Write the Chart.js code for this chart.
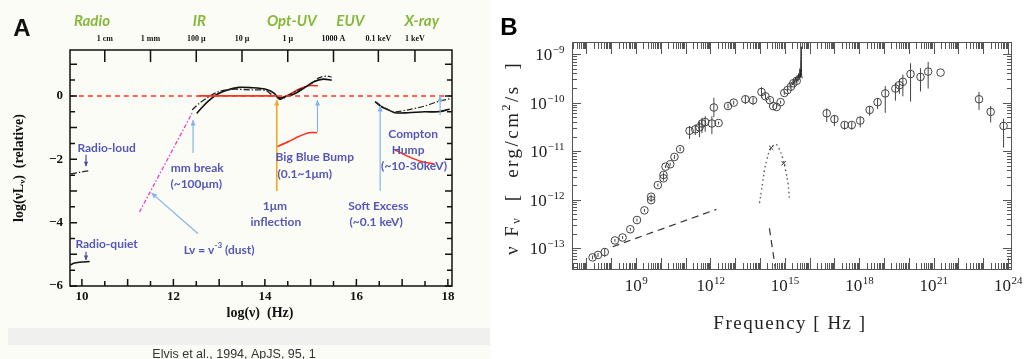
<!DOCTYPE html>
<html>
<head>
<meta charset="utf-8">
<script src="https://cdn.jsdelivr.net/npm/chart.js@4.4.1/dist/chart.umd.min.js"></script>
<style>
  body { margin: 0; background: #fff; width: 1033px; height: 359px; overflow: hidden; position: relative; }
  #boxA { position: absolute; left: 0; top: 0; width: 500px; height: 359px; }
  #boxB { position: absolute; left: 500px; top: 0; width: 533px; height: 359px; }
</style>
</head>
<body>
<div id="boxA"><canvas id="chartA" width="500" height="359"></canvas></div>
<div id="boxB"><canvas id="chartB" width="533" height="359"></canvas></div>
<script>
// ---------- panel A : log(nu) [Hz] vs log(nu L_nu) relative ----------
const bandNames = ["Radio", "IR", "Opt-UV", "EUV", "X-ray"];
const bandPos = [10.22, 12.57, 14.59, 15.87, 17.43];
const waveLabels = ["1 cm", "1 mm", "100 \u03bc", "10 \u03bc", "1 \u03bc", "1000 A", "0.1 keV", "1 keV"];
const wavePos = [10.5, 11.5, 12.5, 13.5, 14.5, 15.5, 16.48, 17.28];
const xTicksA = [10, 12, 14, 16, 18];
const yTicksA = [0, -2, -4, -6];

const irSolidX = [12.51, 12.64, 12.75, 12.93, 13.15, 13.43, 13.72, 14.02, 14.20, 14.29, 14.34, 14.45, 14.59, 14.74, 14.96, 15.07, 15.28, 15.46];
const irSolidY = [-0.55, -0.34, -0.18, 0.03, 0.17, 0.27, 0.26, 0.21, 0.09, -0.07, -0.10, -0.02, 0.03, 0.14, 0.35, 0.45, 0.53, 0.50];
const irDashX = [12.41, 12.57, 12.78, 13.0, 13.29, 13.72, 14.02, 14.16, 14.30, 14.41, 14.52, 14.74, 15.03, 15.17, 15.35, 15.46];
const irDashY = [-0.44, -0.23, -0.02, 0.14, 0.21, 0.19, 0.17, 0.03, -0.04, -0.07, 0.03, 0.19, 0.40, 0.56, 0.63, 0.59];
const bbbUpX = [14.30, 14.43, 14.59, 14.74, 14.96, 15.16];
const bbbUpY = [-0.07, -0.02, 0.09, 0.21, 0.32, 0.32];
const bbbLowX = [14.27, 14.52, 14.74, 14.96, 15.14];
const bbbLowY = [-1.60, -1.44, -1.28, -1.16, -1.16];
const xraySolidX = [16.41, 16.55, 16.70, 16.84, 17.13, 17.49, 17.78, 18.04];
const xraySolidY = [-0.18, -0.34, -0.44, -0.53, -0.53, -0.50, -0.50, -0.42];
const xrayDashX = [16.41, 16.55, 16.70, 16.84, 17.13, 17.49, 17.78, 18.04];
const xrayDashY = [-0.18, -0.32, -0.44, -0.50, -0.44, -0.32, -0.18, -0.09];
const comptonX = [16.84, 17.13, 17.42, 17.71];
const comptonY = [-1.70, -1.91, -2.07, -2.15];
const dustX = [11.26, 12.41];
const dustY = [-3.66, -0.54];
const radioLoudX = [9.76, 9.95, 10.17];
const radioLoudY = [-2.46, -2.41, -2.36];
const radioQuietX = [9.75, 9.82, 9.95, 10.17];
const radioQuietY = [-5.34, -5.28, -5.25, -5.23];
const zeroX = [9.74, 18.09];
const zeroY = [0, 0];
const zeroSolidX = [12.55, 14.25];
const zeroSolidY = [0, 0];

// arrows: [x0, y0, x1, y1] in data units, head at (x1, y1)
const blueArrows = [
  [12.43, -1.80, 12.43, -0.76],
  [12.54, -4.35, 11.52, -3.06],
  [15.15, -1.14, 15.15, -0.13],
  [16.52, -3.00, 16.52, -0.32],
  [17.83, -0.60, 17.83, 0.0]
];
const orangeArrows = [[14.26, -3.00, 14.26, -0.13]];
const darkArrows = [
  [10.09, -1.86, 10.09, -2.22],
  [10.09, -4.92, 10.09, -5.18]
];
const noteText = ["Radio-loud", "mm break", "(~100\u03bcm)", "Big Blue Bump", "(0.1~1\u03bcm)", "1\u03bcm", "inflection",
  "Soft Excess", "(~0.1 keV)", "Compton", "Hump", "(~10-30keV)", "Radio-quiet"];
const noteX = [10.54, 12.52, 12.50, 15.09, 14.87, 14.22, 14.24, 16.48, 16.43, 17.24, 17.13, 17.26, 10.54];
const noteY = [-1.64, -2.27, -2.78, -1.92, -2.46, -3.47, -3.97, -3.47, -3.97, -1.20, -1.70, -2.21, -4.67];

// ---------- panel B : log frequency [Hz] vs log nuFnu [erg/cm2/s] ----------
const ptX = [7.25, 7.47, 7.74, 8.15, 8.46, 8.77, 9.04, 9.34, 9.61, 9.61, 9.88, 10.11, 10.11, 10.19, 10.38, 10.55, 10.78,
  11.16, 11.39, 11.56, 11.66, 11.79, 12.06, 12.14, 12.33, 12.71, 12.94, 13.41, 13.72, 14.06, 14.22, 14.40, 14.53,
  14.67, 14.83, 14.98, 15.11, 15.25, 15.34, 15.48, 16.69, 17.0, 17.41, 17.70, 18.04, 18.42, 18.74, 19.05, 19.46,
  19.62, 19.76, 20.07, 20.47, 20.78, 21.28, 22.83, 23.30, 23.82];
const ptY = [-13.19, -13.14, -13.08, -12.84, -12.78, -12.61, -12.42, -12.22, -12.01, -11.94, -11.70, -11.56, -11.49,
  -11.32, -11.27, -11.12, -10.96, -10.58, -10.55, -10.51, -10.43, -10.40, -10.43, -10.10, -10.42, -10.07, -10.0,
  -9.93, -9.95, -9.78, -9.87, -9.95, -10.07, -10.09, -9.99, -9.80, -9.74, -9.67, -9.60, -9.55, -10.22, -10.34,
  -10.46, -10.46, -10.37, -10.15, -9.99, -9.81, -9.71, -9.64, -9.57, -9.41, -9.47, -9.36, -9.38, -9.93, -10.19, -10.48];
const errLo = [0.04, 0.04, 0.10, 0.03, 0.03, 0.03, 0.03, 0.03, 0.04, 0.04, 0.03, 0.05, 0.05, 0.03, 0.03, 0.04, 0.04,
  0.17, 0.12, 0.20, 0.20, 0.20, 0.22, 0.20, 0.03, 0.05, 0.04, 0.10, 0.10, 0.12, 0.06, 0.04, 0.03,
  0.03, 0.03, 0.04, 0.04, 0.04, 0.04, 0.04, 0.18, 0.14, 0.10, 0.10, 0.14, 0.12, 0.14, 0.40, 0.25,
  0.18, 0.30, 0.57, 0.30, 0.35, 0, 0.22, 0.22, 0.45];
const errHi = [0.04, 0.04, 0.08, 0.03, 0.03, 0.03, 0.03, 0.03, 0.04, 0.04, 0.03, 0.05, 0.05, 0.03, 0.03, 0.04, 0.04,
  0.10, 0.10, 0.12, 0.12, 0.12, 0.15, 0.20, 0.03, 0.05, 0.04, 0.08, 0.06, 0.10, 0.06, 0.04, 0.03,
  0.03, 0.03, 0.04, 0.04, 0.04, 0.04, 0.04, 0.10, 0.08, 0.06, 0.06, 0.08, 0.08, 0.08, 0.15, 0.12,
  0.12, 0.15, 0.22, 0.18, 0.20, 0, 0.15, 0.12, 0.15];
const spikeX = [15.22, 15.28, 15.32, 15.36, 15.40, 15.44, 15.47, 15.50, 15.53, 15.56, 15.59, 15.61, 15.63, 15.65, 15.66, 15.67, 15.68, 15.70];
const spikeY = [-9.66, -9.58, -9.63, -9.52, -9.60, -9.47, -9.58, -9.44, -9.56, -9.40, -9.52, -9.30, -9.48, -9.05, -8.85, -9.30, -9.45, -9.50];
const dotX = [13.98, 14.05, 14.11, 14.18, 14.28, 14.41, 14.63, 14.76, 14.90, 15.03, 15.13, 15.19];
const dotY = [-12.07, -11.84, -11.63, -11.39, -11.17, -10.97, -10.86, -10.94, -11.12, -11.39, -11.67, -12.01];
const crossX = [14.45, 14.95];
const crossY = [-10.93, -11.25];
const dashX = [8.06, 12.24];
const dashY = [-12.97, -12.20];
const steepX = [14.38, 14.62];
const steepY = [-12.59, -13.42];
const xTicksB = [9, 12, 15, 18, 21, 24];
const yTicksB = [-9, -10, -11, -12, -13];

const pts = (xs, ys) => xs.map((x, i) => ({ x, y: ys[i] }));

function line(xs, ys, color, width, dash) {
  return { data: pts(xs, ys), borderColor: color, borderWidth: width, borderDash: dash || [],
    pointRadius: 0, showLine: true, fill: false, tension: 0.3 };
}

function arrow(ctx, x0, y0, x1, y1, head) {
  ctx.beginPath(); ctx.moveTo(x0, y0); ctx.lineTo(x1, y1); ctx.stroke();
  const a = Math.atan2(y1 - y0, x1 - x0);
  ctx.beginPath();
  ctx.moveTo(x1, y1);
  ctx.lineTo(x1 - head * Math.cos(a - 0.45), y1 - head * Math.sin(a - 0.45));
  ctx.lineTo(x1 - head * Math.cos(a + 0.45), y1 - head * Math.sin(a + 0.45));
  ctx.closePath(); ctx.fill();
}

// draws text pieces [text, font, dy] centred on (0,0) of the current transform
function richText(ctx, parts, spacing) {
  ctx.textAlign = "left"; ctx.textBaseline = "middle";
  ctx.letterSpacing = spacing || "0px";
  const widths = parts.map(p => { ctx.font = p[1]; return ctx.measureText(p[0]).width; });
  let cx = -widths.reduce((s, w) => s + w, 0) / 2;
  parts.forEach((p, i) => { ctx.font = p[1]; ctx.fillText(p[0], cx, p[2]); cx += widths[i]; });
  ctx.letterSpacing = "0px";
}

const panelA = {
  id: "panelA",
  beforeDraw(chart) {
    const ctx = chart.ctx;
    ctx.save();
    ctx.fillStyle = "#fff";
    ctx.fillRect(0, 0, chart.width, chart.height);
    ctx.fillStyle = "#fcfcf7";
    ctx.fillRect(0, 0, 491, chart.height);
    ctx.fillStyle = "#f0f0ee";
    ctx.fillRect(8, 328, 482, 17);
    ctx.fillStyle = "#333";
    ctx.font = "12.5px 'Liberation Sans'";
    ctx.textAlign = "center"; ctx.textBaseline = "top";
    ctx.fillText("Elvis et al., 1994, ApJS, 95, 1", 234, 348);
    ctx.restore();
  },
  afterDraw(chart) {
    const { ctx, chartArea: a, scales: { x, y } } = chart;
    ctx.save();
    ctx.strokeStyle = "#111"; ctx.lineWidth = 1.5;
    ctx.strokeRect(a.left, a.top, a.right - a.left, a.bottom - a.top);
    ctx.beginPath();
    for (let v = 10; v <= 18; v += 0.5) {
      const px = x.getPixelForValue(v);
      const len = Number.isInteger(v) ? 7 : 5;
      ctx.moveTo(px, a.bottom); ctx.lineTo(px, a.bottom - len);
    }
    for (let v = -6; v <= 1; v += 0.5) {
      const py = y.getPixelForValue(v);
      const len = Number.isInteger(v) ? 7 : 5;
      ctx.moveTo(a.left, py); ctx.lineTo(a.left + len, py);
      ctx.moveTo(a.right, py); ctx.lineTo(a.right - len, py);
    }
    wavePos.forEach(v => {
      const px = x.getPixelForValue(v);
      ctx.moveTo(px, a.top); ctx.lineTo(px, a.top + 12);
    });
    ctx.stroke();

    ctx.fillStyle = "#111";
    ctx.font = "bold 13px 'Liberation Serif'";
    ctx.textAlign = "center"; ctx.textBaseline = "middle";
    xTicksA.forEach(v => ctx.fillText(String(v), x.getPixelForValue(v), a.bottom + 11));
    ctx.textAlign = "right";
    yTicksA.forEach(v => ctx.fillText(v === 0 ? "0" : "\u2212" + Math.abs(v), a.left - 7, y.getPixelForValue(v)));
    ctx.font = "bold 8px 'Liberation Serif'";
    ctx.textAlign = "center";
    waveLabels.forEach((t, i) => ctx.fillText(t, x.getPixelForValue(wavePos[i]), 39));
    ctx.font = "bold italic 15px Lato";
    ctx.fillStyle = "#86b83a";
    bandNames.forEach((t, i) => ctx.fillText(t, x.getPixelForValue(bandPos[i]), 21));

    ctx.fillStyle = "#111";
    ctx.font = "bold 14px 'Liberation Serif'";
    ctx.fillText("log(\u03bd)  (Hz)", 260, 313);
    ctx.save();
    ctx.translate(19, 168); ctx.rotate(-Math.PI / 2);
    const fA = "bold 14px 'Liberation Serif'", fAs = "bold 9px 'Liberation Serif'";
    richText(ctx, [["log(\u03bdL", fA, 0], ["\u03bd", fAs, 4], [")  (relative)", fA, 0]]);
    ctx.restore();
    ctx.textAlign = "center";
    ctx.font = "bold 24px 'Liberation Sans'";
    ctx.fillText("A", 22, 29);

    // annotation arrows
    ctx.lineWidth = 1.2;
    ctx.strokeStyle = ctx.fillStyle = "#86b4ea";
    blueArrows.forEach(r => arrow(ctx, x.getPixelForValue(r[0]), y.getPixelForValue(r[1]), x.getPixelForValue(r[2]), y.getPixelForValue(r[3]), 6));
    ctx.lineWidth = 1.6;
    ctx.strokeStyle = ctx.fillStyle = "#f5a524";
    orangeArrows.forEach(r => arrow(ctx, x.getPixelForValue(r[0]), y.getPixelForValue(r[1]), x.getPixelForValue(r[2]), y.getPixelForValue(r[3]), 6));
    ctx.lineWidth = 1.2;
    ctx.strokeStyle = ctx.fillStyle = "#4a4aa8";
    darkArrows.forEach(r => arrow(ctx, x.getPixelForValue(r[0]), y.getPixelForValue(r[1]), x.getPixelForValue(r[2]), y.getPixelForValue(r[3]), 5));

    ctx.fillStyle = "#5557b8";
    ctx.font = "bold 12px Lato";
    ctx.textAlign = "center"; ctx.textBaseline = "middle";
    noteText.forEach((t, i) => ctx.fillText(t, x.getPixelForValue(noteX[i]), y.getPixelForValue(noteY[i])));
    // L nu = nu^-3 label with superscript
    ctx.save();
    ctx.translate(x.getPixelForValue(13.0), y.getPixelForValue(-4.86));
    const fN = "bold 12px Lato", fNs = "bold 8px Lato";
    richText(ctx, [["Lv = v", fN, 0], ["-3", fNs, -4], [" (dust)", fN, 0]]);
    ctx.restore();
    ctx.restore();
  }
};

new Chart(document.getElementById("chartA"), {
  type: "scatter",
  data: {
    datasets: [
      line(zeroX, zeroY, "#ff3322", 1.5, [5, 4]),
      line(zeroSolidX, zeroSolidY, "#ff3322", 1.8),
      line(irDashX, irDashY, "#222", 1.3, [6, 2, 1.5, 2]),
      line(irSolidX, irSolidY, "#111", 1.6),
      line(bbbUpX, bbbUpY, "#ff2a1a", 1.5),
      line(bbbLowX, bbbLowY, "#ff2a1a", 1.5),
      line(xrayDashX, xrayDashY, "#222", 1.2, [6, 2, 1.5, 2]),
      line(xraySolidX, xraySolidY, "#111", 1.6),
      line(comptonX, comptonY, "#ff2a1a", 1.5),
      line(dustX, dustY, "#e83cc8", 1.3, [4, 2, 1.5, 2]),
      line(radioLoudX, radioLoudY, "#222", 1.3, [6, 2, 1.5, 2]),
      line(radioQuietX, radioQuietY, "#111", 1.5)
    ]
  },
  options: {
    responsive: false, animation: false, devicePixelRatio: 1,
    layout: { padding: { left: 70, top: 50, right: 48, bottom: 73 } },
    scales: {
      x: { type: "linear", min: 9.74, max: 18.09, display: false },
      y: { type: "linear", min: -6, max: 1.45, display: false }
    },
    plugins: { legend: { display: false }, tooltip: { enabled: false } }
  },
  plugins: [panelA]
});

// ---------- panel B ----------
function powLabel(ctx, exp, px, py, align) {
  const base = "10", sup = exp < 0 ? "\u2212" + Math.abs(exp) : String(exp);
  ctx.font = "17px 'Liberation Serif'";
  const wb = ctx.measureText(base).width;
  ctx.font = "11px 'Liberation Serif'";
  const ws = ctx.measureText(sup).width;
  const x0 = align === "right" ? px - wb - ws : px - (wb + ws) / 2;
  ctx.textAlign = "left"; ctx.textBaseline = "alphabetic";
  ctx.font = "17px 'Liberation Serif'";
  ctx.fillText(base, x0, py);
  ctx.font = "11px 'Liberation Serif'";
  ctx.fillText(sup, x0 + wb + 0.5, py - 7);
}

const panelB = {
  id: "panelB",
  beforeDraw(chart) {
    const ctx = chart.ctx;
    ctx.save(); ctx.fillStyle = "#fff"; ctx.fillRect(0, 0, chart.width, chart.height); ctx.restore();
  },
  afterDatasetsDraw(chart) {
    const { ctx, scales: { x, y } } = chart;
    ctx.save();
    ctx.strokeStyle = "#444"; ctx.lineWidth = 1;
    ctx.beginPath();
    ptX.forEach((v, i) => {
      const px = x.getPixelForValue(v);
      ctx.moveTo(px, y.getPixelForValue(ptY[i] - errLo[i]));
      ctx.lineTo(px, y.getPixelForValue(ptY[i] + errHi[i]));
    });
    ctx.stroke();
    ctx.restore();
  },
  afterDraw(chart) {
    const { ctx, chartArea: a, scales: { x, y } } = chart;
    ctx.save();
    ctx.strokeStyle = "#555"; ctx.lineWidth = 1;
    ctx.strokeRect(a.left + 0.5, a.top + 0.5, a.right - a.left - 1, a.bottom - a.top - 1);
    ctx.beginPath();
    for (let d = Math.floor(x.min); d <= Math.ceil(x.max); d++) {
      for (let k = 1; k < 10; k++) {
        const v = d + Math.log10(k);
        if (v < x.min || v > x.max) continue;
        const px = Math.round(x.getPixelForValue(v)) + 0.5;
        const len = k === 1 ? 12 : 7;
        ctx.moveTo(px, a.bottom); ctx.lineTo(px, a.bottom - len);
        ctx.moveTo(px, a.top); ctx.lineTo(px, a.top + len);
      }
    }
    for (let d = Math.floor(y.min); d <= Math.ceil(y.max); d++) {
      for (let k = 1; k < 10; k++) {
        const v = d + Math.log10(k);
        if (v < y.min || v > y.max) continue;
        const py = Math.round(y.getPixelForValue(v)) + 0.5;
        const len = k === 1 ? 9 : 5;
        ctx.moveTo(a.left, py); ctx.lineTo(a.left + len, py);
        ctx.moveTo(a.right, py); ctx.lineTo(a.right - len, py);
      }
    }
    ctx.stroke();

    ctx.fillStyle = "#222";
    xTicksB.forEach(v => powLabel(ctx, v, x.getPixelForValue(v), a.bottom + 21, "center"));
    yTicksB.forEach(v => powLabel(ctx, v, a.left - 8, y.getPixelForValue(v) + 6, "right"));

    ctx.save();
    ctx.translate(290, 324);
    richText(ctx, [["Frequency [ Hz ]", "19px 'Liberation Serif'", 0]], "1.5px");
    ctx.restore();
    ctx.save();
    ctx.translate(13, 158); ctx.rotate(-Math.PI / 2);
    const fB = "19px 'Liberation Serif'", fBs = "12px 'Liberation Serif'";
    richText(ctx, [["\u03bd F", fB, 0], ["\u03bd", fBs, 4], ["  [  erg/cm", fB, 0], ["2", fBs, -6], ["/s  ]", fB, 0]], "2.5px");
    ctx.restore();
    ctx.fillStyle = "#000";
    ctx.textAlign = "center"; ctx.textBaseline = "middle";
    ctx.font = "bold 24px 'Liberation Sans'";
    ctx.fillText("B", 9, 28);
    ctx.restore();
  }
};

new Chart(document.getElementById("chartB"), {
  type: "scatter",
  data: {
    datasets: [
      { data: pts(ptX, ptY), pointStyle: "circle", pointRadius: 3.8, borderColor: "#444", borderWidth: 1, backgroundColor: "rgba(0,0,0,0)" },
      { data: pts(crossX, crossY), pointStyle: "crossRot", pointRadius: 3, borderColor: "#333", borderWidth: 1 },
      line(spikeX, spikeY, "#222", 1),
      Object.assign(line(dotX, dotY, "#555", 1.3, [1.5, 3]), { tension: 0.4 }),
      line(dashX, dashY, "#333", 1.2, [7, 5]),
      line(steepX, steepY, "#333", 1.2, [7, 5])
    ]
  },
  options: {
    responsive: false, animation: false, devicePixelRatio: 1,
    layout: { padding: { left: 72, top: 42, right: 21, bottom: 89 } },
    scales: {
      x: { type: "linear", min: 6.42, max: 24.16, display: false },
      y: { type: "linear", min: -13.45, max: -8.75, display: false }
    },
    plugins: { legend: { display: false }, tooltip: { enabled: false } }
  },
  plugins: [panelB]
});
</script>
</body>
</html>
